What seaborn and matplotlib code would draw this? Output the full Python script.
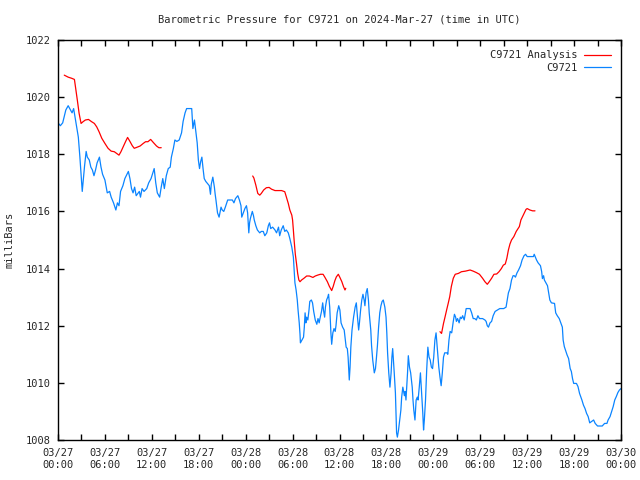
import pandas as pd
import matplotlib
matplotlib.use("Agg")
import matplotlib.pyplot as plt
import matplotlib.dates as mdates
import seaborn as sns

# hours since 2024-03-27 00:00 UTC, pressure in mbar
obs_hours = [0.0, 0.3, 0.6, 1.0, 1.3, 1.6, 1.8, 2.0, 2.3, 2.6, 2.8, 3.0, 3.1, 3.2, 3.4, 3.6, 3.75,
             4.0, 4.2, 4.4, 4.6, 4.8, 5.0, 5.3, 5.5, 5.7, 6.0, 6.3, 6.6, 6.8, 7.1, 7.4, 7.6, 7.8,
             8.0, 8.3, 8.55, 9.0, 9.2, 9.4, 9.6, 9.8, 10.0, 10.4, 10.55, 10.75, 11.0, 11.35, 11.6,
             11.9, 12.3, 12.5, 12.7, 13.0, 13.2, 13.4, 13.6, 13.85, 14.1, 14.35, 14.5, 14.75, 14.95,
             15.2, 15.5, 15.8, 16.0, 16.25, 16.45, 16.8, 17.1, 17.25, 17.45, 17.6, 17.8, 17.95,
             18.1, 18.25, 18.4, 18.55, 18.7, 18.9, 19.2, 19.35, 19.5, 19.6, 19.8, 20.0, 20.1, 20.2,
             20.4, 20.6, 20.85, 21.0, 21.2, 21.4, 21.7, 22.0, 22.3, 22.5, 22.7, 23.0, 23.2, 23.4,
             23.5, 23.7, 23.9, 24.1, 24.25, 24.4, 24.5, 24.6, 24.85, 25.0, 25.1, 25.3, 25.5, 25.8,
             26.0, 26.25, 26.45, 26.7, 26.9, 27.05, 27.2, 27.45, 27.75, 27.95, 28.2, 28.35, 28.55,
             28.8, 29.0, 29.2, 29.45, 29.65, 29.9, 30.1, 30.2, 30.3, 30.45, 30.6, 30.7, 30.85,
             30.95, 31.0, 31.2, 31.4, 31.5, 31.6, 31.7, 31.8, 31.95, 32.1, 32.2, 32.4, 32.55, 32.7,
             32.9, 33.1, 33.25, 33.4, 33.5, 33.7, 33.85, 33.95, 34.1, 34.2, 34.35, 34.5, 34.6,
             34.75, 34.9, 35.0, 35.15, 35.3, 35.45, 35.55, 35.7, 35.9, 36.05, 36.2, 36.4, 36.6,
             36.7, 36.85, 37.0, 37.1, 37.25, 37.35, 37.45, 37.6, 37.8, 38.0, 38.15, 38.3, 38.45,
             38.55, 38.7, 38.85, 39.0, 39.15, 39.25, 39.4, 39.55, 39.7, 39.8, 40.0, 40.1, 40.25,
             40.45, 40.6, 40.7, 40.85, 41.0, 41.15, 41.3, 41.45, 41.6, 41.8, 41.95, 42.05, 42.15,
             42.3, 42.45, 42.6, 42.7, 42.8, 42.9, 43.0, 43.15, 43.3, 43.4, 43.55, 43.7, 43.85,
             43.95, 44.1, 44.3, 44.4, 44.5, 44.7, 44.8, 44.95, 45.1, 45.3, 45.4, 45.5, 45.65, 45.8,
             45.95, 46.05, 46.2, 46.35, 46.5, 46.65, 46.75, 46.85, 47.0, 47.15, 47.3, 47.45, 47.6,
             47.75, 47.9, 48.05, 48.2, 48.35, 48.5, 48.7, 48.85, 49.0, 49.15, 49.3, 49.45, 49.6,
             49.75, 49.85, 50.0, 50.15, 50.35, 50.55, 50.7, 50.85, 50.95, 51.1, 51.3, 51.45, 51.6,
             51.75, 51.95, 52.1, 52.2, 52.7, 52.9, 53.1, 53.3, 53.5, 53.7, 53.9, 54.3, 54.6, 54.75,
             54.9, 55.05, 55.25, 55.45, 55.65, 55.9, 56.2, 56.5, 57.0, 57.3, 57.45, 57.6, 57.8,
             58.0, 58.2, 58.35, 58.5, 58.7, 58.9, 59.15, 59.35, 59.6, 59.8, 60.0, 60.8, 60.9, 61.2,
             61.4, 61.7, 61.85, 61.95, 62.1, 62.2, 62.4, 62.6, 62.75, 62.9, 63.1, 63.5, 63.65,
             63.85, 64.1, 64.3, 64.5, 64.6, 64.75, 64.9, 65.1, 65.3, 65.5, 65.65, 65.8, 65.95,
             66.3, 66.5, 66.7, 67.0, 67.2, 67.4, 67.6, 67.8, 68.0, 68.2, 68.5, 68.7, 69.0, 69.6,
             69.9, 70.2, 70.35, 70.6, 70.8, 71.0, 71.2, 71.4, 71.6, 71.8, 72.0]
obs_mbar = [1019.1, 1019.0, 1019.1, 1019.55, 1019.7, 1019.55, 1019.45, 1019.6, 1019.1, 1018.6,
            1017.9, 1017.1, 1016.7, 1017.0, 1017.6, 1018.1, 1017.9, 1017.8, 1017.55, 1017.45,
            1017.25, 1017.45, 1017.7, 1017.9, 1017.55, 1017.3, 1017.1, 1016.65, 1016.7, 1016.5,
            1016.3, 1016.05, 1016.3, 1016.2, 1016.7, 1016.9, 1017.15, 1017.4, 1017.15, 1016.8,
            1016.65, 1016.85, 1016.55, 1016.7, 1016.5, 1016.8, 1016.7, 1016.8, 1017.0, 1017.15,
            1017.5, 1017.0, 1016.65, 1016.5, 1016.85, 1017.15, 1016.8, 1017.25, 1017.5, 1017.55,
            1017.9, 1018.2, 1018.5, 1018.45, 1018.5, 1018.75, 1019.15, 1019.45, 1019.6, 1019.6,
            1019.6, 1018.9, 1019.2, 1018.85, 1018.4, 1017.8, 1017.5, 1017.75, 1017.9, 1017.5,
            1017.15, 1017.05, 1016.95, 1016.9, 1016.6, 1016.95, 1017.2, 1016.85, 1016.6, 1016.4,
            1015.95, 1015.8, 1016.15, 1016.05, 1016.0, 1016.15, 1016.4, 1016.4, 1016.4, 1016.3,
            1016.45, 1016.55, 1016.4, 1016.2, 1015.8, 1015.95, 1016.1, 1016.2, 1015.95, 1015.25,
            1015.6, 1015.75, 1016.0, 1015.85, 1015.7, 1015.5, 1015.35, 1015.25, 1015.3, 1015.3,
            1015.15, 1015.25, 1015.5, 1015.6, 1015.4, 1015.45, 1015.35, 1015.25, 1015.45, 1015.15,
            1015.35, 1015.5, 1015.3, 1015.35, 1015.25, 1015.05, 1014.75, 1014.4, 1013.95, 1013.5,
            1013.25, 1012.9, 1012.55, 1012.1, 1011.7, 1011.4, 1011.5, 1011.6, 1011.95, 1012.45,
            1012.1, 1012.3, 1012.2, 1012.55, 1012.85, 1012.9, 1012.8, 1012.5, 1012.2, 1012.05,
            1012.25, 1012.1, 1012.25, 1012.5, 1012.8, 1012.55, 1012.3, 1012.65, 1012.9, 1013.0,
            1013.1, 1012.65, 1011.75, 1011.35, 1011.75, 1011.9, 1011.8, 1012.0, 1012.45, 1012.7,
            1012.55, 1012.1, 1011.95, 1011.85, 1011.6, 1011.25, 1011.2, 1010.9, 1010.1, 1010.55,
            1011.25, 1011.85, 1012.3, 1012.65, 1012.8, 1012.3, 1011.85, 1012.1, 1012.55, 1012.9,
            1013.1, 1012.9, 1012.7, 1013.15, 1013.3, 1012.9, 1012.45, 1011.85, 1011.3, 1010.8,
            1010.35, 1010.5, 1010.8, 1011.3, 1011.95, 1012.45, 1012.7, 1012.85, 1012.9, 1012.65,
            1012.3, 1011.75, 1011.05, 1010.35, 1009.85, 1010.35, 1010.9, 1011.2, 1010.8, 1010.35,
            1009.65, 1008.25, 1008.1, 1008.35, 1008.7, 1009.05, 1009.5, 1009.85, 1009.55, 1009.7,
            1009.4, 1010.35, 1010.95, 1010.55, 1010.35, 1009.85, 1009.4, 1009.05, 1008.7, 1009.4,
            1009.5, 1009.4, 1009.85, 1010.35, 1009.65, 1008.95, 1008.35, 1008.7, 1009.4, 1010.45,
            1011.25, 1010.9, 1010.8, 1010.55, 1010.5, 1010.9, 1011.5, 1011.75, 1011.25, 1010.55,
            1010.2, 1009.9, 1010.35, 1010.9, 1011.05, 1011.05, 1011.05, 1011.0, 1011.5, 1011.8,
            1011.75, 1012.15, 1012.4, 1012.3, 1012.15, 1012.25, 1012.1, 1012.3, 1012.25, 1012.35,
            1012.2, 1012.45, 1012.6, 1012.6, 1012.45, 1012.25, 1012.25, 1012.2, 1012.35, 1012.25,
            1012.25, 1012.2, 1012.15, 1012.0, 1011.95, 1012.1, 1012.15, 1012.35, 1012.5, 1012.55,
            1012.6, 1012.6, 1012.65, 1012.9, 1013.15, 1013.3, 1013.6, 1013.75, 1013.75, 1013.7,
            1013.85, 1013.95, 1014.1, 1014.3, 1014.45, 1014.5, 1014.42, 1014.42, 1014.5, 1014.3,
            1014.2, 1014.1, 1013.9, 1013.65, 1013.75, 1013.6, 1013.5, 1013.4, 1013.15, 1012.9,
            1012.8, 1012.78, 1012.45, 1012.35, 1012.25, 1012.1, 1011.95, 1011.5, 1011.27, 1011.15,
            1010.98, 1010.85, 1010.5, 1010.4, 1010.15, 1009.98, 1009.98, 1009.87, 1009.63, 1009.4,
            1009.22, 1009.1, 1008.93, 1008.82, 1008.6, 1008.64, 1008.7, 1008.58, 1008.49, 1008.49,
            1008.58, 1008.58, 1008.7, 1008.82, 1008.99, 1009.17, 1009.4, 1009.52, 1009.66, 1009.75,
            1009.8]

# analysis, three separate runs
ana1_hours = [0.8, 1.3, 1.75, 2.1, 2.26, 2.5, 2.7, 2.95, 3.2, 3.5, 3.9, 4.3, 4.65, 4.95, 5.25,
              5.6, 6.0, 6.4, 6.8, 7.2, 7.5, 7.8, 8.05, 8.35, 8.65, 8.9, 9.2, 9.5, 9.75, 10.05,
              10.5, 10.9, 11.2, 11.5, 11.85, 12.2, 12.6, 12.9, 13.2]
ana1_mbar = [1020.77, 1020.7, 1020.66, 1020.62, 1020.31, 1019.84, 1019.43, 1019.08, 1019.14,
             1019.2, 1019.22, 1019.14, 1019.08, 1018.96, 1018.79, 1018.56, 1018.38, 1018.21,
             1018.11, 1018.09, 1018.03, 1017.97, 1018.09, 1018.27, 1018.45, 1018.59, 1018.45,
             1018.3, 1018.21, 1018.24, 1018.29, 1018.38, 1018.44, 1018.44, 1018.52, 1018.41,
             1018.29, 1018.23, 1018.23]
ana2_hours = [24.9, 25.05, 25.3, 25.55, 25.8, 26.0, 26.3, 26.65, 27.0, 27.3, 27.75, 28.2, 28.6,
              29.0, 29.2, 29.45, 29.65, 29.9, 30.0, 30.1, 30.2, 30.35, 30.5, 30.65, 30.8, 30.95,
              31.15, 31.45, 31.8, 32.15, 32.6, 32.9, 33.2, 33.55, 33.9, 34.1, 34.45, 34.7, 35.0,
              35.2, 35.4, 35.6, 35.85, 36.05, 36.3, 36.5, 36.7, 36.8]
ana2_mbar = [1017.24, 1017.17, 1016.92, 1016.63, 1016.57, 1016.63, 1016.75, 1016.83, 1016.84,
             1016.78, 1016.73, 1016.73, 1016.73, 1016.69, 1016.51, 1016.28, 1016.05, 1015.87,
             1015.7, 1015.35, 1014.98, 1014.5, 1014.18, 1013.83, 1013.6, 1013.54, 1013.6,
             1013.66, 1013.74, 1013.74, 1013.69, 1013.74, 1013.77, 1013.8, 1013.8, 1013.71,
             1013.54, 1013.38, 1013.23, 1013.38, 1013.57, 1013.71, 1013.8, 1013.69, 1013.54,
             1013.38, 1013.25, 1013.31]
ana3_hours = [48.85, 49.05, 49.3, 49.5, 49.7, 49.9, 50.1, 50.3, 50.55, 50.8, 51.2, 51.6, 52.1,
              52.7, 53.1, 53.5, 53.9, 54.3, 54.6, 54.9, 55.15, 55.45, 55.75, 56.1, 56.4, 56.7,
              56.95, 57.2, 57.4, 57.6, 57.8, 58.0, 58.3, 58.6, 59.0, 59.2, 59.5, 59.85, 60.0,
              60.35, 60.7, 61.0]
ana3_mbar = [1011.79, 1011.73, 1012.08, 1012.31, 1012.55, 1012.78, 1013.02, 1013.37, 1013.66,
             1013.8, 1013.83, 1013.89, 1013.91, 1013.95, 1013.91, 1013.86, 1013.8, 1013.66,
             1013.54, 1013.45, 1013.54, 1013.66, 1013.8, 1013.81, 1013.89, 1014.0, 1014.12,
             1014.16, 1014.36, 1014.65, 1014.86, 1015.0, 1015.12, 1015.3, 1015.47, 1015.7,
             1015.87, 1016.07, 1016.1, 1016.05, 1016.02, 1016.02]

start = pd.Timestamp("2024-03-27 00:00")
end = pd.Timestamp("2024-03-30 00:00")

obs = pd.DataFrame({"time": start + pd.to_timedelta(obs_hours, unit="h"), "mbar": obs_mbar})
parts = []
for i, (h, m) in enumerate([(ana1_hours, ana1_mbar), (ana2_hours, ana2_mbar), (ana3_hours, ana3_mbar)]):
    parts.append(pd.DataFrame({"time": start + pd.to_timedelta(h, unit="h"), "mbar": m, "seg": i}))
ana = pd.concat(parts, ignore_index=True)

sns.set_style("ticks")
plt.rcParams["font.family"] = ["DejaVu Sans Mono"]

fig = plt.figure(figsize=(6.4, 4.8), dpi=100)
ax = fig.add_axes([58 / 640, 40 / 480, 563 / 640, 400 / 480])

sns.lineplot(data=ana, x="time", y="mbar", units="seg", estimator=None,
             color="red", lw=0.9, label="C9721 Analysis", ax=ax)
sns.lineplot(data=obs, x="time", y="mbar", color="#0a84ff", lw=0.9, label="C9721", ax=ax)

ax.set_xlim(start, end)
ax.set_ylim(1008, 1022)
ax.set_yticks(range(1008, 1023, 2))
ax.xaxis.set_major_locator(mdates.HourLocator(byhour=[0, 6, 12, 18]))
ax.xaxis.set_minor_locator(mdates.HourLocator(byhour=[3, 9, 15, 21]))
ax.xaxis.set_major_formatter(mdates.DateFormatter("%m/%d\n%H:%M"))

ax.tick_params(which="both", direction="in", length=4, width=1, top=True, right=True,
               labelsize=7.5, color="black")
ax.tick_params(axis="x", pad=6)
ax.tick_params(axis="y", pad=5)
for s in ax.spines.values():
    s.set_color("black")
    s.set_linewidth(1)

ax.set_xlabel("")
ax.set_ylabel("milliBars", fontsize=7.5)
ax.yaxis.set_label_coords(-0.077, 0.5)

fig.text(339.5 / 640, 1 - 20 / 480, "Barometric Pressure for C9721 on 2024-Mar-27 (time in UTC)",
         ha="center", va="center", fontsize=7.5)

handles, labels = ax.get_legend_handles_labels()
uniq = dict(zip(labels, handles))
ax.legend(list(uniq.values()), list(uniq.keys()), loc="upper right", markerfirst=False,
          frameon=False, fontsize=7.5, handlelength=2.6, labelspacing=0.25,
          borderaxespad=0.6, handletextpad=0.6)

fig.savefig("out.png", dpi=100)
